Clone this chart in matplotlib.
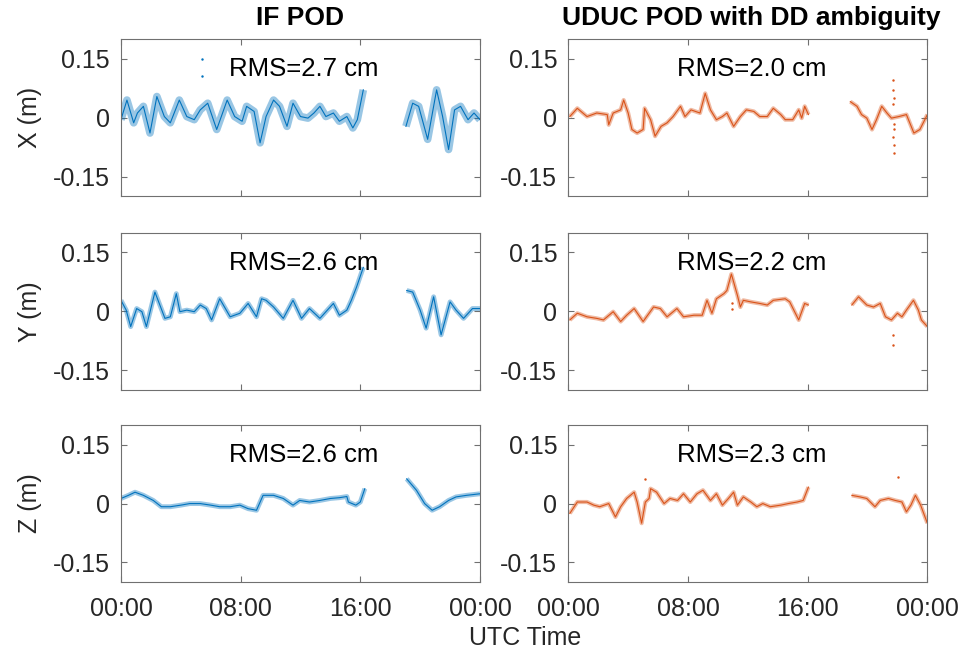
import matplotlib.pyplot as plt
import numpy as np

plt.rcParams['font.family'] = ['Liberation Sans', 'DejaVu Sans']

nan = np.nan

# horas UTC e residuos (m); nan = falha de dados
t_x_if = [0.0, 0.4, 0.85, 1.1, 1.5, 1.94, 2.4, 2.9, 3.3, 3.9, 4.4, 4.9, 5.3, 5.8, 6.4, 7.1, 7.6, 8.1,
          8.4, 8.9, 9.3, 9.7, 10.2, 10.6, 11.1, 11.5, 12.0, 12.5, 12.9, 13.3, 13.7, 14.2, 14.6, 15.1,
          15.5, 15.8, 16.2, 17.5, 19.05, 19.5, 19.9, 20.5, 21.1, 21.5, 21.9, 22.3, 22.7, 23.2, 23.6, 24.0]
x_if = [-0.005, 0.045, -0.013, 0.012, 0.029, -0.039, 0.054, 0.003, -0.013, 0.045, 0.003, -0.005, 0.020,
        0.037, -0.030, 0.045, 0.003, -0.009, 0.029, 0.016, -0.064, 0.003, 0.045, 0.029, -0.022, 0.037,
        0.003, -0.001, 0.012, 0.029, 0.003, 0.012, -0.009, 0.003, -0.026, -0.005, 0.071, nan,
        -0.022, 0.037, 0.029, -0.055, 0.071, 0.003, -0.081, 0.020, 0.029, -0.005, 0.012, -0.005]

t_x_uduc = [0.1, 0.6, 1.25, 1.9, 2.6, 2.7, 3.0, 3.5, 3.7, 4.0, 4.25, 4.6, 5.0, 5.1, 5.5, 5.8, 6.2, 6.6,
            7.0, 7.5, 7.8, 8.2, 8.8, 9.15, 9.5, 9.9, 10.3, 10.6, 11.05, 11.5, 11.9, 12.4, 12.8, 13.3,
            13.7, 14.2, 14.5, 15.0, 15.4, 15.6, 15.8, 16.05, 17.5, 18.85, 19.3, 19.6, 19.95, 20.3, 20.6,
            20.95, 21.3, 21.6, 22.1, 22.6, 23.1, 23.5, 24.0]
x_uduc = [0.003, 0.024, 0.003, 0.012, 0.008, -0.018, 0.012, 0.020, 0.045, 0.012, -0.030, -0.039, -0.030,
          0.024, -0.005, -0.047, -0.022, -0.013, 0.003, 0.029, 0.003, 0.020, 0.012, 0.062, 0.020, -0.005,
          0.003, 0.012, -0.022, 0.003, 0.020, 0.016, 0.003, 0.003, 0.024, 0.008, -0.005, -0.005, 0.020,
          -0.001, 0.029, 0.008, nan, 0.041, 0.029, 0.008, -0.001, -0.030, -0.005, 0.029, 0.012, -0.001,
          0.003, 0.008, -0.039, -0.030, 0.008]

t_y_if = [0.0, 0.35, 0.65, 1.05, 1.4, 1.7, 2.27, 2.94, 3.3, 3.7, 3.94, 4.4, 4.9, 5.3, 5.7, 6.06, 6.6, 7.3,
          7.95, 8.5, 9.06, 9.4, 9.7, 10.2, 10.85, 11.5, 12.07, 12.6, 13.3, 13.7, 14.2, 14.6, 15.1, 15.4,
          15.75, 16.2, 17.5, 19.1, 19.5, 20.0, 20.4, 20.9, 21.4, 22.0, 22.4, 22.9, 23.5, 24.0]
y_if = [0.028, 0.003, -0.039, 0.007, -0.001, -0.039, 0.049, -0.018, -0.014, 0.045, -0.001, 0.003, -0.001,
        0.016, 0.007, -0.022, 0.032, -0.014, -0.005, 0.020, -0.014, 0.032, 0.028, 0.011, -0.018, 0.028,
        -0.018, 0.007, -0.018, -0.001, 0.020, -0.010, 0.003, 0.028, 0.062, 0.112, nan,
        0.053, 0.049, 0.003, -0.043, 0.037, -0.060, 0.024, 0.003, -0.018, 0.007, 0.007]

t_y_uduc = [0.1, 0.6, 1.25, 1.9, 2.35, 3.0, 3.5, 3.9, 4.4, 5.0, 5.7, 6.15, 6.6, 7.26, 7.7, 8.4, 8.95, 9.27,
            9.6, 9.9, 10.4, 10.6, 10.9, 11.3, 11.5, 11.7, 12.2, 12.8, 13.3, 13.7, 14.5, 14.8, 15.4, 15.8,
            16.05, 17.5, 18.95, 19.4, 19.95, 20.4, 20.85, 21.2, 21.6, 22.0, 22.3, 22.6, 23.07, 23.4,
            23.6, 24.0]
y_uduc = [-0.022, -0.005, -0.014, -0.018, -0.022, -0.001, -0.026, -0.010, 0.007, -0.026, 0.011, 0.007,
          -0.014, 0.007, -0.014, -0.010, -0.010, 0.028, -0.005, 0.032, 0.045, 0.053, 0.095, 0.041, 0.011,
          0.028, 0.024, 0.020, 0.016, 0.028, 0.032, 0.024, -0.022, 0.020, 0.016, nan,
          0.016, 0.037, 0.016, 0.011, 0.020, -0.014, -0.022, -0.005, -0.014, 0.003, 0.028, 0.003,
          -0.022, -0.039]

t_z_if = [0.0, 0.5, 0.94, 1.5, 2.16, 2.7, 3.3, 4.0, 4.6, 5.3, 6.0, 6.6, 7.3, 7.95, 8.5, 9.06, 9.5, 10.2,
          10.85, 11.5, 11.95, 12.6, 13.3, 14.0, 14.6, 15.1, 15.2, 15.7, 16.0, 16.3, 17.5, 19.1, 19.75,
          20.3, 20.8, 21.3, 21.9, 22.4, 23.1, 24.0]
z_if = [0.013, 0.021, 0.029, 0.021, 0.008, -0.008, -0.008, -0.004, 0.000, 0.000, -0.004, -0.008, -0.008,
        -0.004, -0.013, -0.017, 0.021, 0.021, 0.013, -0.004, 0.008, 0.004, 0.008, 0.013, 0.015, 0.018,
        0.004, -0.004, 0.004, 0.038, nan, 0.063, 0.034, 0.000, -0.017, -0.008, 0.008, 0.017, 0.021, 0.025]

t_z_uduc = [0.1, 0.6, 1.25, 1.7, 2.1, 2.7, 3.15, 3.5, 3.9, 4.4, 4.6, 4.9, 5.15, 5.4, 5.5, 5.9, 6.4, 6.8,
            7.3, 7.7, 8.15, 8.6, 9.0, 9.5, 9.9, 10.3, 10.7, 11.05, 11.3, 11.7, 12.2, 12.6, 13.0, 13.5,
            14.2, 14.7, 15.3, 15.7, 16.05, 17.5, 18.95, 19.5, 19.95, 20.5, 20.85, 21.4, 21.85, 22.3,
            22.6, 22.9, 23.2, 23.55, 24.0]
z_uduc = [-0.025, 0.004, 0.004, -0.004, -0.008, 0.000, -0.034, -0.008, 0.013, 0.029, 0.004, -0.050, 0.004,
          0.013, 0.038, 0.029, 0.000, 0.013, 0.008, 0.025, 0.004, 0.025, 0.034, 0.008, 0.025, -0.004,
          0.013, 0.029, -0.004, 0.017, 0.004, -0.008, 0.000, -0.008, -0.004, 0.000, 0.004, 0.008, 0.042,
          nan, 0.021, 0.017, 0.013, -0.008, 0.008, 0.013, 0.008, 0.004, -0.021, -0.004, 0.021, -0.004,
          -0.050]

# pontos isolados (outliers)
t_out_x_if = [5.39, 5.39]
out_x_if = [0.150, 0.106]
t_out_x_uduc = [21.7, 21.7, 21.75, 21.8, 21.7, 21.75, 21.8, 21.7, 21.75]
out_x_uduc = [0.096, 0.070, 0.050, -0.030, -0.050, -0.070, -0.090, 0.035, -0.015]
t_out_y_uduc = [21.7, 21.7, 10.95, 10.95]
out_y_uduc = [-0.060, -0.085, 0.005, 0.020]
t_out_z_uduc = [5.1, 22.07]
out_z_uduc = [0.063, 0.069]

rms = [['RMS=2.7 cm', 'RMS=2.0 cm'], ['RMS=2.6 cm', 'RMS=2.2 cm'], ['RMS=2.6 cm', 'RMS=2.3 cm']]
ylabels = ['X (m)', 'Y (m)', 'Z (m)']
titulos = ['IF POD', 'UDUC POD with DD ambiguity']
xtick_labels = ['00:00', '08:00', '16:00', '00:00']

series = [[(t_x_if, x_if, t_out_x_if, out_x_if), (t_x_uduc, x_uduc, t_out_x_uduc, out_x_uduc)],
          [(t_y_if, y_if, [], []), (t_y_uduc, y_uduc, t_out_y_uduc, out_y_uduc)],
          [(t_z_if, z_if, [], []), (t_z_uduc, z_uduc, t_out_z_uduc, out_z_uduc)]]

cores = ['#0072BD', '#D95319']
largura = [[5.5, 3], [3.5, 3], [3.5, 3]]
texto = '#262626'
borda = '#707070'

fig = plt.figure(figsize=(9.6, 6.54), dpi=100)
lefts = [0.126, 0.592]
bottoms = [0.700, 0.404, 0.110]

for i in range(3):
    for j in range(2):
        ax = fig.add_axes([lefts[j], bottoms[i], 0.374, 0.240])
        t, v, to, vo = series[i][j]
        ax.plot(t, v, color=cores[j], lw=largura[i][j], alpha=0.4, solid_capstyle='butt')
        ax.plot(t, v, color=cores[j], lw=0.8)
        if to:
            ax.plot(to, vo, '.', color=cores[j], ms=1.5)
        ax.set_xlim(0, 24)
        ax.set_ylim(-0.2, 0.2)
        ax.set_xticks([0, 8, 16, 24])
        ax.set_yticks([-0.15, 0, 0.15])
        ax.set_yticklabels(['-0.15', '0', '0.15'])
        if i == 2:
            ax.set_xticklabels(xtick_labels)
        else:
            ax.set_xticklabels([])
        ax.tick_params(direction='in', top=True, right=True, labelsize=18,
                       colors=borda, labelcolor=texto, length=4)
        ax.tick_params(axis='x', pad=11)
        ax.tick_params(axis='y', pad=8)
        for s in ax.spines.values():
            s.set_color(borda)
        ax.text(0.51, 0.81, rms[i][j], transform=ax.transAxes, ha='center', va='center',
                fontsize=18.5, color='black')
        if j == 0:
            ax.set_ylabel(ylabels[i], fontsize=18, color=texto)
            ax.yaxis.set_label_coords(-0.22, 0.5)
        if i == 0:
            ax.text(0.5 + 0.01 * j, 1.135, titulos[j], transform=ax.transAxes, ha='center',
                    va='center', fontsize=19, fontweight='bold', color='black')

fig.text(0.547, 0.0245, 'UTC Time', ha='center', va='center', fontsize=18, color=texto)

plt.savefig('out.png', dpi=100)
